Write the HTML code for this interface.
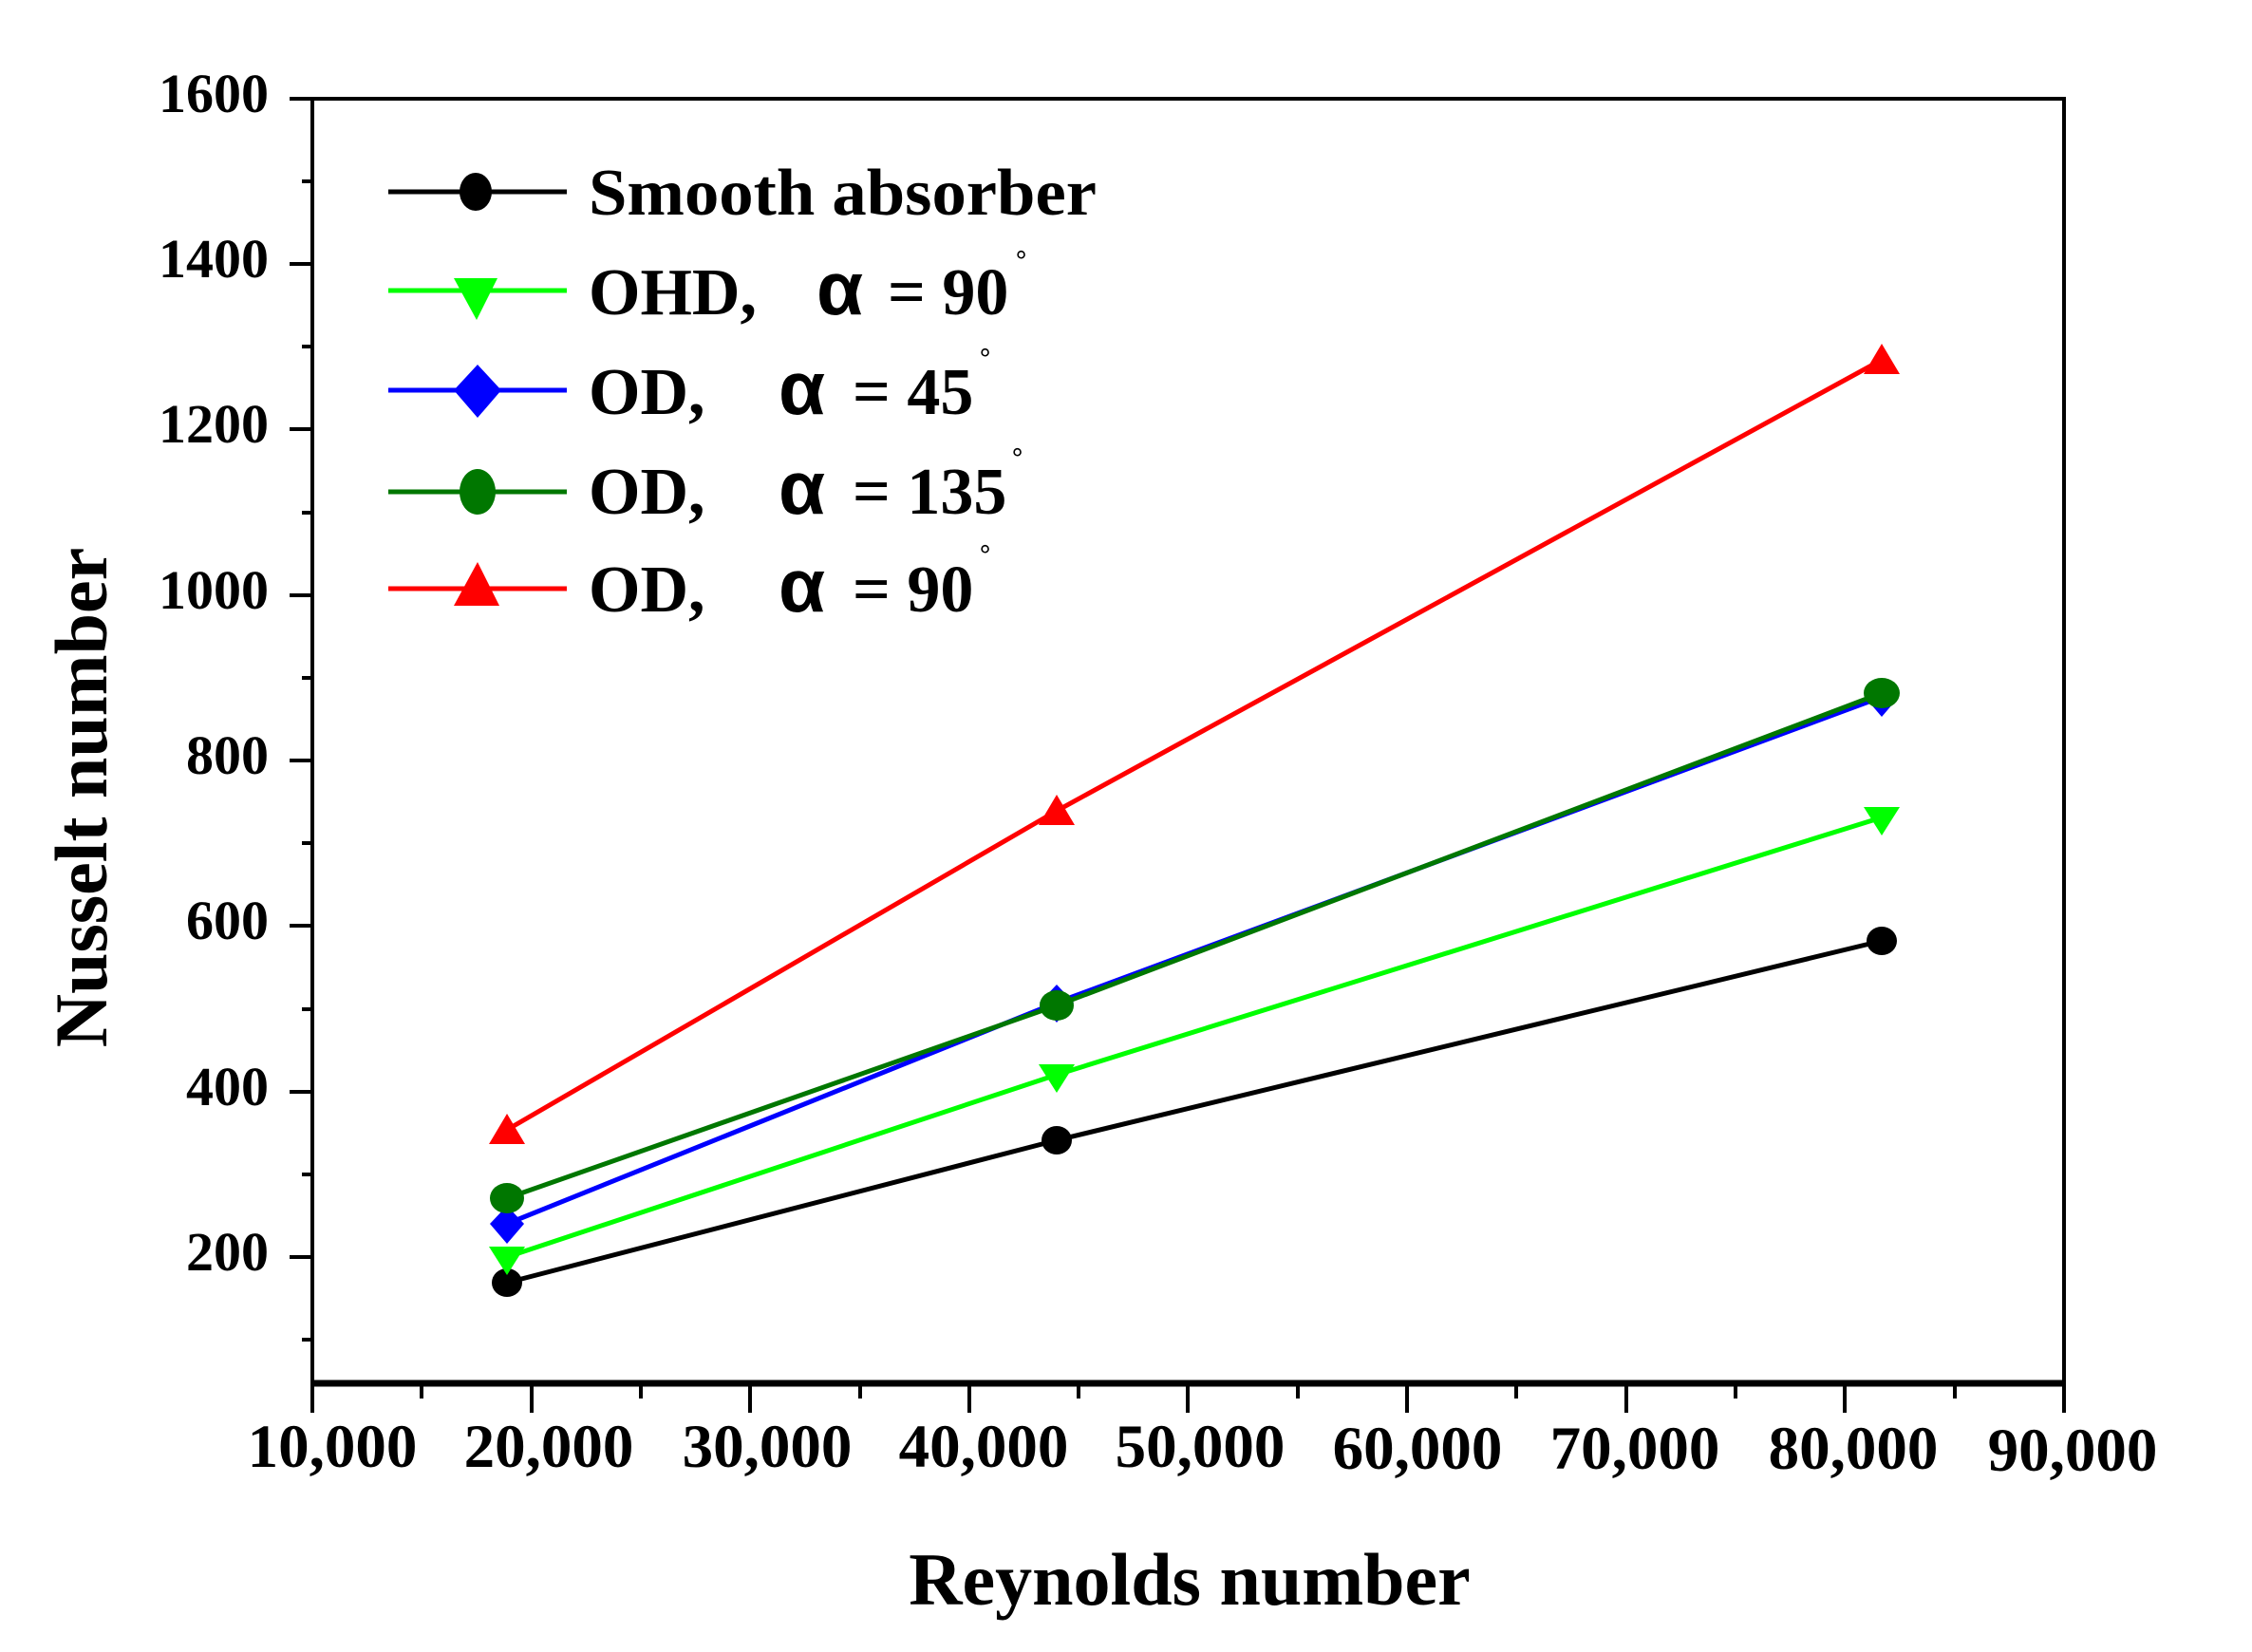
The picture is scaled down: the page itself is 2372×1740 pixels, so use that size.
<!DOCTYPE html>
<html><head><meta charset="utf-8"><style>
html,body{margin:0;padding:0;background:#fff;}
svg{display:block;}
text{font-family:"Liberation Serif",serif;font-weight:bold;fill:#000;}
.a{font-family:"Liberation Sans","DejaVu Sans",sans-serif;font-weight:bold;}
</style></head><body>
<svg width="2372" height="1740" viewBox="0 0 2372 1740" xmlns="http://www.w3.org/2000/svg">
<rect width="2372" height="1740" fill="#fff"/>
<rect x="329" y="104" width="1845" height="1353" fill="none" stroke="#000" stroke-width="4"/>
<line x1="327" y1="1457" x2="2176" y2="1457" stroke="#000" stroke-width="7"/>
<g stroke="#000" stroke-width="4">
<line x1="305" y1="104" x2="329" y2="104"/>
<line x1="305" y1="278" x2="329" y2="278"/>
<line x1="305" y1="452" x2="329" y2="452"/>
<line x1="305" y1="627" x2="329" y2="627"/>
<line x1="305" y1="801" x2="329" y2="801"/>
<line x1="305" y1="975" x2="329" y2="975"/>
<line x1="305" y1="1150" x2="329" y2="1150"/>
<line x1="305" y1="1324" x2="329" y2="1324"/>
<line x1="318" y1="191" x2="329" y2="191"/>
<line x1="318" y1="365" x2="329" y2="365"/>
<line x1="318" y1="540" x2="329" y2="540"/>
<line x1="318" y1="714" x2="329" y2="714"/>
<line x1="318" y1="888" x2="329" y2="888"/>
<line x1="318" y1="1063" x2="329" y2="1063"/>
<line x1="318" y1="1237" x2="329" y2="1237"/>
<line x1="318" y1="1411" x2="329" y2="1411"/>
</g>
<g font-size="58" text-anchor="end">
<text x="283" y="118">1600</text>
<text x="283" y="292">1400</text>
<text x="283" y="466">1200</text>
<text x="283" y="641">1000</text>
<text x="283" y="815">800</text>
<text x="283" y="989">600</text>
<text x="283" y="1164">400</text>
<text x="283" y="1338">200</text>
</g>
<g stroke="#000" stroke-width="4">
<line x1="329" y1="1457" x2="329" y2="1488"/>
<line x1="560" y1="1457" x2="560" y2="1488"/>
<line x1="790" y1="1457" x2="790" y2="1488"/>
<line x1="1021" y1="1457" x2="1021" y2="1488"/>
<line x1="1251" y1="1457" x2="1251" y2="1488"/>
<line x1="1482" y1="1457" x2="1482" y2="1488"/>
<line x1="1713" y1="1457" x2="1713" y2="1488"/>
<line x1="1943" y1="1457" x2="1943" y2="1488"/>
<line x1="2174" y1="1457" x2="2174" y2="1488"/>
<line x1="444" y1="1457" x2="444" y2="1473"/>
<line x1="675" y1="1457" x2="675" y2="1473"/>
<line x1="906" y1="1457" x2="906" y2="1473"/>
<line x1="1136" y1="1457" x2="1136" y2="1473"/>
<line x1="1367" y1="1457" x2="1367" y2="1473"/>
<line x1="1597" y1="1457" x2="1597" y2="1473"/>
<line x1="1828" y1="1457" x2="1828" y2="1473"/>
<line x1="2059" y1="1457" x2="2059" y2="1473"/>
</g>
<g font-size="65" text-anchor="middle">
<text x="350" y="1545">10,000</text>
<text x="578" y="1545">20,000</text>
<text x="808" y="1545">30,000</text>
<text x="1036" y="1545">40,000</text>
<text x="1264" y="1545">50,000</text>
<text x="1493" y="1547">60,000</text>
<text x="1722" y="1547">70,000</text>
<text x="1952" y="1547">80,000</text>
<text x="2183" y="1549">90,000</text>
</g>
<text x="1253" y="1690" font-size="78" text-anchor="middle">Reynolds number</text>
<text transform="translate(112,840) rotate(-90)" font-size="78" text-anchor="middle">Nusselt number</text>
<g fill="none" stroke-width="5">
<polyline points="534,1351 1113,1201 1982,991" stroke="#000"/>
<polyline points="534,1324 1113,1132 1982,861" stroke="#00ff00"/>
<polyline points="534,1289 1113,1056 1982,734" stroke="#0000ff"/>
<polyline points="534,1262 1113,1059 1982,730" stroke="#007700"/>
<polyline points="534,1190 1113,854 1982,379" stroke="#ff0000"/>
</g>
<g fill="#000"><ellipse cx="534" cy="1351" rx="16" ry="15"/><ellipse cx="1113" cy="1201" rx="16" ry="15"/><ellipse cx="1982" cy="991" rx="16" ry="15"/></g>
<g fill="#00ff00"><polygon points="515,1313 553,1313 534,1343"/><polygon points="1094,1121 1132,1121 1113,1151"/><polygon points="1963,850 2001,850 1982,880"/></g>
<g fill="#0000ff"><polygon points="534,1270 552,1289 534,1310 516,1289"/><polygon points="1113,1037 1131,1056 1113,1077 1095,1056"/><polygon points="1982,715 2000,734 1982,755 1964,734"/></g>
<g fill="#007700"><ellipse cx="534" cy="1262" rx="18" ry="16"/><ellipse cx="1113" cy="1059" rx="18" ry="16"/><ellipse cx="1982" cy="730" rx="19" ry="16"/></g>
<g fill="#ff0000"><polygon points="515,1205 553,1205 534,1173"/><polygon points="1094,869 1132,869 1113,837"/><polygon points="1963,394 2001,394 1982,362"/></g>
<g stroke-width="5">
<line x1="409" y1="202" x2="597" y2="202" stroke="#000"/>
<line x1="409" y1="306" x2="597" y2="306" stroke="#00ff00"/>
<line x1="409" y1="411" x2="597" y2="411" stroke="#0000ff"/>
<line x1="409" y1="518" x2="597" y2="518" stroke="#007700"/>
<line x1="409" y1="620" x2="597" y2="620" stroke="#ff0000"/>
</g>
<ellipse cx="501" cy="202" rx="17" ry="20" fill="#000"/>
<polygon points="478,293 524,293 502,337" fill="#00ff00"/>
<polygon points="503,384 528,411 503,440 478,411" fill="#0000ff"/>
<ellipse cx="503" cy="518" rx="19" ry="24" fill="#007700"/>
<polygon points="478,638 526,638 503,592" fill="#ff0000"/>
<g font-size="70">
<text x="620" y="226" textLength="535" lengthAdjust="spacingAndGlyphs">Smooth absorber</text>
<text x="620" y="331">OHD,</text>
<text x="620" y="436">OD,</text>
<text x="620" y="541">OD,</text>
<text x="620" y="644">OD,</text>
<text x="935" y="331">= 90</text>
<text x="898" y="436">= 45</text>
<text x="898" y="541">= 135</text>
<text x="898" y="644">= 90</text>
</g>
<g font-size="80">
<text x="860" y="331" class="a">α</text>
<text x="820" y="436" class="a">α</text>
<text x="820" y="541" class="a">α</text>
<text x="820" y="644" class="a">α</text>
</g>
<g font-size="28" font-family="Liberation Sans,sans-serif">
<text x="1070" y="283">°</text>
<text x="1032" y="386">°</text>
<text x="1066" y="491">°</text>
<text x="1032" y="593">°</text>
</g>
</svg>
</body></html>
